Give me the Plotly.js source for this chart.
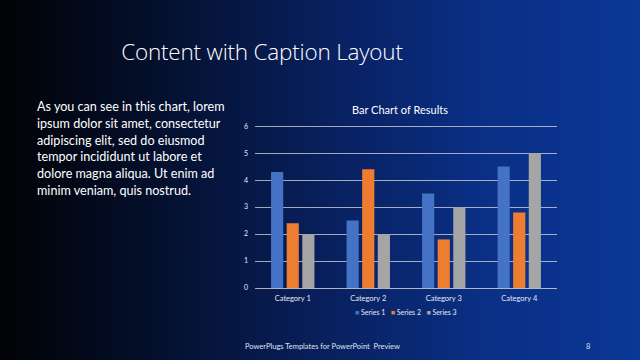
<!DOCTYPE html>
<html>
<head>
<meta charset="utf-8">
<script src="https://cdn.plot.ly/plotly-3.0.1.min.js"></script>
<style>
html,body{margin:0;padding:0;width:640px;height:360px;overflow:hidden;}
body{background:linear-gradient(90deg,#010205 0%,#04102e 25%,#081f5c 50%,#0a2f85 75%,#0b3796 100%);position:relative;font-family:Lato,"Open Sans",sans-serif;}
#title{position:absolute;left:0;width:524px;top:36px;text-align:center;color:#fff;font-family:"Open Sans",Lato,sans-serif;font-weight:300;font-size:22.5px;letter-spacing:-0.2px;}
#caption{position:absolute;left:37px;top:99px;width:192px;color:#fff;font-size:12.6px;line-height:16.8px;}
#footer{position:absolute;left:245px;top:342px;color:#dfe4f0;font-size:7.5px;}
#page{position:absolute;left:586px;top:342px;color:#dfe4f0;font-size:7.5px;}
#chart{position:absolute;left:0;top:0;width:640px;height:360px;}
</style>
</head>
<body>
<div id="title">Content with Caption Layout</div>
<div id="caption">As you can see in this chart, lorem ipsum dolor sit amet, consectetur adipiscing elit, sed do eiusmod tempor incididunt ut labore et dolore magna aliqua. Ut enim ad minim veniam, quis nostrud.</div>
<div id="footer">PowerPlugs Templates for PowerPoint&nbsp; Preview</div>
<div id="page">8</div>
<div id="chart"></div>
<script>
const categories = ["Category 1", "Category 2", "Category 3", "Category 4"];
const seriesNames = ["Series 1", "Series 2", "Series 3"];
const series1 = [4.3, 2.5, 3.5, 4.5];
const series2 = [2.4, 4.4, 1.8, 2.8];
const series3 = [2, 2, 3, 5];
const seriesColors = ["#4472C4", "#ED7D31", "#A5A5A5"];
const yTicks = [0, 1, 2, 3, 4, 5, 6];

const allValues = [series1, series2, series3];
const traces = allValues.map((vals, i) => ({
  type: "bar",
  x: categories,
  y: vals,
  name: seriesNames[i],
  marker: {color: seriesColors[i]}
}));

// compact legend built from the series names and colours
const legendText = seriesNames.map((n, i) =>
  "<span style='color:" + seriesColors[i] + "'>■</span> " + n).join("   ");

const layout = {
  width: 640, height: 360,
  paper_bgcolor: "rgba(0,0,0,0)",
  plot_bgcolor: "rgba(0,0,0,0)",
  margin: {l: 255, r: 83, t: 125, b: 72},
  barmode: "group",
  bargap: 0.38,
  bargroupgap: 0.22,
  font: {family: "Lato, 'Open Sans', sans-serif", color: "#e6e9f2", size: 8},
  title: {text: "Bar Chart of Results", font: {size: 11, color: "#ffffff"}, x: 0.625, xanchor: "center", y: 0.695, yanchor: "middle"},
  xaxis: {showgrid: false, showline: true, linecolor: "rgba(217,217,217,0.8)", linewidth: 1, tickfont: {size: 7.5, color: "#e6e9f2"}, ticks: "", ticklen: 0, ticklabelstandoff: 3},
  yaxis: {range: [0, 6.04], tickvals: yTicks, showgrid: true, gridcolor: "rgba(217,217,217,0.75)", gridwidth: 1, zeroline: false, showline: false, tickfont: {size: 7, color: "#e6e9f2"}, ticklabelstandoff: 6},
  showlegend: false,
  annotations: [{
    xref: "paper", yref: "paper", x: 0.5, y: -0.15, xanchor: "center", yanchor: "middle",
    text: legendText, showarrow: false, font: {size: 7, color: "#e6e9f2"}
  }]
};

Plotly.newPlot("chart", traces, layout, {staticPlot: true, displayModeBar: false});
</script>
</body>
</html>
